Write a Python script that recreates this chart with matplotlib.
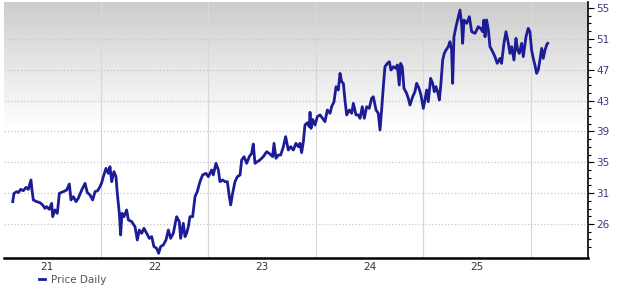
import matplotlib
matplotlib.use("Agg")
import matplotlib.pyplot as plt
import numpy as np

# fecha en años fraccionarios (21 = ene 2021) y precio diario
fecha = [20.681, 20.693, 20.718, 20.734, 20.755, 20.780, 20.805, 20.826, 20.851, 20.860,
         20.873, 20.904, 20.935, 20.960, 20.981, 20.997, 21.022, 21.043, 21.053, 21.074,
         21.096, 21.115, 21.152, 21.183, 21.208, 21.223, 21.245, 21.270, 21.291, 21.323,
         21.354, 21.375, 21.400, 21.425, 21.447, 21.471, 21.493, 21.509, 21.524, 21.549,
         21.571, 21.586, 21.602, 21.623, 21.642, 21.654, 21.673, 21.685, 21.698, 21.716,
         21.741, 21.757, 21.788, 21.819, 21.840, 21.859, 21.881, 21.902, 21.927, 21.952,
         21.974, 21.995, 22.020, 22.039, 22.057, 22.082, 22.107, 22.129, 22.150, 22.175,
         22.206, 22.231, 22.243, 22.268, 22.284, 22.299, 22.315, 22.330, 22.355, 22.377,
         22.398, 22.423, 22.448, 22.479, 22.501, 22.532, 22.547, 22.572, 22.594, 22.609,
         22.634, 22.656, 22.678, 22.696, 22.709, 22.727, 22.749, 22.771, 22.796, 22.811,
         22.833, 22.858, 22.882, 22.904, 22.919, 22.935, 22.957, 22.981, 23.012, 23.044,
         23.074, 23.099, 23.112, 23.130, 23.152, 23.174, 23.199, 23.220, 23.245, 23.267,
         23.292, 23.316, 23.338, 23.354, 23.369, 23.385, 23.400, 23.422, 23.440, 23.447,
         23.456, 23.471, 23.493, 23.515, 23.540, 23.564, 23.586, 23.608, 23.633, 23.648,
         23.670, 23.689, 23.710, 23.726, 23.741, 23.757, 23.772, 23.788, 23.813, 23.835,
         23.850, 23.875, 23.896, 23.912, 23.933, 23.952, 23.974, 23.998, 24.020, 24.036,
         24.061, 24.082, 24.098, 24.113, 24.129, 24.144, 24.166, 24.185, 24.200, 24.222,
         24.246, 24.259, 24.277, 24.290, 24.305, 24.321, 24.346, 24.361, 24.377, 24.402,
         24.423, 24.439, 24.461, 24.479, 24.501, 24.516, 24.532, 24.547, 24.569, 24.588,
         24.603, 24.619, 24.634, 24.650, 24.665, 24.681, 24.696, 24.712, 24.733, 24.749,
         24.764, 24.774, 24.786, 24.805, 24.820, 24.842, 24.857, 24.867, 24.879, 24.904,
         24.929, 24.951, 24.982, 25.012, 25.034, 25.053, 25.065, 25.075, 25.090, 25.106,
         25.121, 25.146, 25.167, 25.189, 25.214, 25.229, 25.251, 25.270, 25.292, 25.307,
         25.323, 25.344, 25.363, 25.378, 25.394, 25.416, 25.431, 25.456, 25.477, 25.493,
         25.508, 25.524, 25.539, 25.555, 25.570, 25.586, 25.602, 25.617, 25.633, 25.648,
         25.658]
precio = [29.00, 30.10, 30.34, 30.21, 30.65, 30.47, 30.92, 30.65, 31.91, 30.56,
          29.22, 29.00, 28.86, 28.55, 28.10, 28.33, 27.97, 28.77, 26.98, 27.88,
          27.43, 30.12, 30.34, 30.56, 31.37, 29.22, 29.67, 29.00, 29.45, 30.56,
          31.46, 30.21, 29.89, 29.22, 30.34, 30.47, 31.01, 31.55, 32.35, 33.47,
          32.80, 33.70, 31.68, 33.03, 32.35, 30.12, 27.43, 24.52, 27.43, 26.98,
          27.88, 26.54, 26.31, 25.64, 23.85, 25.19, 24.75, 25.42, 24.75, 24.07,
          24.30, 22.96, 22.73, 22.06, 22.96, 23.18, 23.85, 25.19, 24.07, 24.75,
          26.98, 26.31, 24.07, 26.09, 24.30, 24.75, 25.64, 26.98, 26.98, 29.67,
          30.34, 31.68, 32.58, 32.80, 32.35, 33.25, 32.58, 34.14, 33.25, 31.68,
          31.91, 31.68, 31.68, 29.67, 28.55, 30.12, 31.68, 32.35, 32.58, 34.59,
          35.04, 34.14, 35.04, 35.49, 36.74, 34.14, 34.37, 34.59, 35.04, 35.71,
          35.40, 35.04, 36.83, 34.82, 35.26, 35.26, 36.38, 37.73, 35.93, 36.38,
          35.93, 36.83, 36.38, 36.83, 35.58, 37.05, 39.29, 39.60, 39.07, 41.00,
          38.84, 40.04, 39.29, 40.41, 40.64, 40.19, 39.74, 41.31, 40.86, 41.75,
          42.42, 44.44, 43.99, 46.23, 45.11, 44.89, 42.65, 40.64, 41.31, 40.86,
          42.20, 40.64, 40.64, 40.19, 41.75, 40.19, 41.75, 41.53, 42.87, 43.09,
          41.31, 40.86, 38.62, 41.31, 44.44, 47.12, 47.57, 47.79, 46.67, 47.12,
          46.90, 47.35, 44.66, 47.57, 47.12, 44.21, 43.54, 42.87, 41.97, 43.09,
          43.77, 44.89, 44.21, 43.32, 41.53, 42.65, 43.99, 42.42, 45.56, 44.89,
          43.77, 44.44, 43.77, 42.65, 44.89, 48.02, 48.91, 49.36, 49.81, 50.48,
          49.36, 44.89, 51.15, 52.49, 53.39, 54.73, 52.94, 50.26, 53.39, 52.94,
          53.84, 51.82, 51.60, 52.49, 52.27, 51.82, 53.39, 51.15, 53.39, 52.05,
          49.81, 49.14, 48.47, 47.57, 48.24, 47.57, 50.26, 51.82, 50.26, 48.91,
          49.81, 48.02, 50.93, 49.36, 48.91, 50.26, 48.47, 51.15, 52.27, 51.82,
          49.36, 48.24, 47.35, 46.23, 46.67, 48.02, 49.58, 48.24, 49.36, 50.03,
          50.26]

anios = [21, 22, 23, 24, 25]
etiquetas_x = ["21", "22", "23", "24", "25"]
etiquetas_y = ["26", "31", "35", "39", "43", "47", "51", "55"]

fig = plt.figure(figsize=(6.2, 2.9), dpi=100)
ax = fig.add_axes([4 / 620, 32 / 290, 584 / 620, 256 / 290])

# fondo degradado gris -> blanco en la mitad superior
grad = np.ones((256, 1))
n = 128
grad[:n, 0] = np.linspace(0.80, 1.0, n)
ax.imshow(grad, cmap="gray", vmin=0, vmax=1, aspect="auto",
          extent=[0, 1, 0, 1], transform=ax.transAxes, zorder=0)

ax.plot(fecha, precio, color="#1c1c96", linewidth=2.0, zorder=3, label="Price Daily")

ax.set_xlim(20.600, 26.033)
ax.set_ylim(21.43, 55.81)

ax.set_xticks(anios)
ax.set_xticklabels(etiquetas_x)
ax.set_xticks([21.5, 22.5, 23.5, 24.5, 25.5], minor=True)
ax.tick_params(axis="x", which="both", length=0, labelsize=7.5, colors="#333333", pad=3)

yt = np.linspace(26, 55, 8)
ax.yaxis.tick_right()
ax.set_yticks(yt)
ax.set_yticklabels(etiquetas_y)
ax.set_yticks(np.arange(22.89, 55, (yt[1] - yt[0]) / 4), minor=True)
ax.tick_params(axis="y", which="major", length=4, width=0.8, labelsize=7.5,
               labelcolor="#3a3a80", pad=2)
ax.tick_params(axis="y", which="minor", length=2, width=0.8)

ax.grid(True, axis="y", which="major", color="#c8c8c8", linestyle=":", linewidth=0.9)
ax.grid(True, axis="x", which="minor", color="#d8d8d8", linestyle="-", linewidth=0.9)

for s in ["left", "top"]:
    ax.spines[s].set_visible(False)
ax.spines["bottom"].set_linewidth(1.8)
ax.spines["right"].set_linewidth(1.2)

leg = fig.legend(loc="lower left", bbox_to_anchor=(32 / 620, -2 / 290), frameon=False,
                 fontsize=7.5, handlelength=0.5, handletextpad=0.6, borderpad=0.2)
for t in leg.get_texts():
    t.set_color("#555555")

fig.savefig("out.png", dpi=100)
